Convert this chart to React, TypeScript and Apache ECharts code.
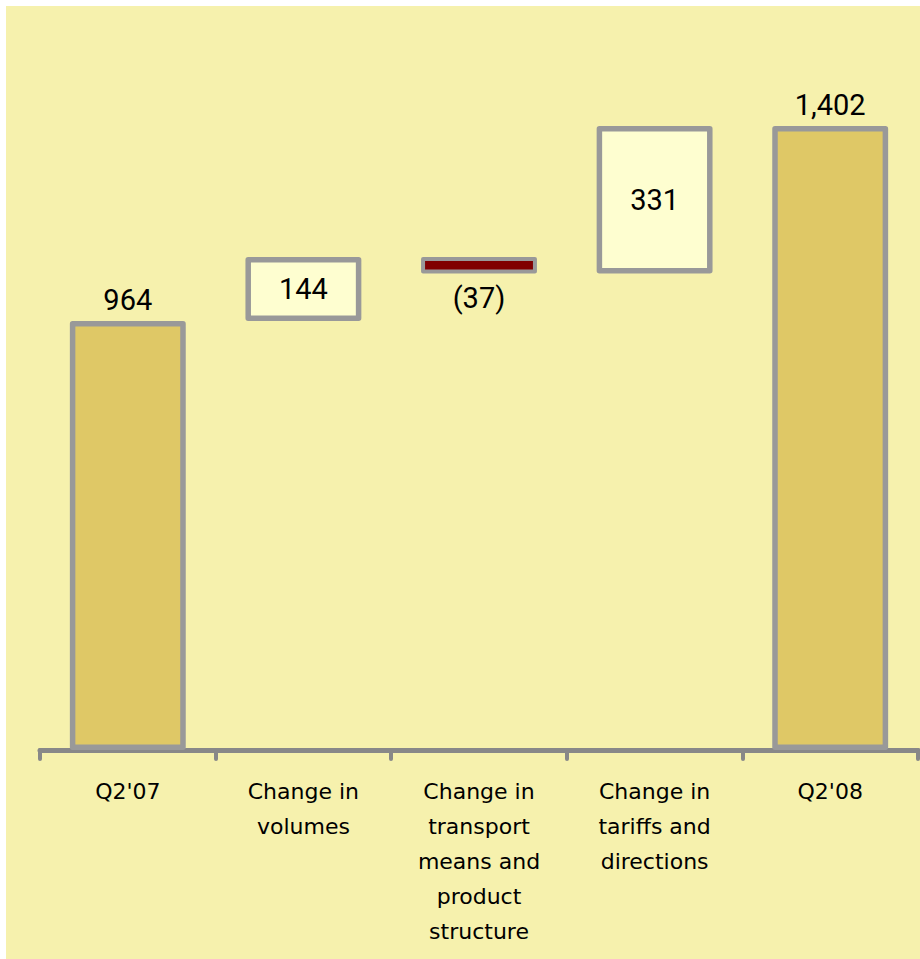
import React, { useEffect, useRef } from "react";
import * as echarts from "echarts";

// Waterfall: Q2'07 -> Q2'08 bridge
const categories = [
  "Q2'07",
  "Change in\nvolumes",
  "Change in\ntransport\nmeans and\nproduct\nstructure",
  "Change in\ntariffs and\ndirections",
  "Q2'08",
];
const values = [964, 144, -37, 331, 1402];
const kinds = ["total", "delta", "delta", "delta", "total"];

const BG = "#F6F1AD";
const TOTAL_FILL = "#DFC866";
const UP_FILL = "#FEFED0";
const DOWN_FILL = "#800000";
const BORDER = "#999999";
const AXIS = "#888888";

function fmt(v: number): string {
  const s = Math.abs(v).toLocaleString("en-US");
  return v < 0 ? `(${s})` : s;
}

export default function App() {
  const ref = useRef<HTMLDivElement>(null);

  useEffect(() => {
    if (!ref.current) return;
    const chart = echarts.init(ref.current, undefined, { renderer: "svg" });

    let running = 0;
    const baseData: number[] = [];
    const barData: any[] = [];
    values.forEach((v, i) => {
      let base = 0;
      if (kinds[i] === "total") {
        running = v;
        base = 0;
      } else if (v >= 0) {
        base = running;
        running += v;
      } else {
        running += v;
        base = running;
      }
      baseData.push(base);
      const fill = kinds[i] === "total" ? TOTAL_FILL : v >= 0 ? UP_FILL : DOWN_FILL;
      const pos = kinds[i] === "total" ? "top" : v >= 0 ? "inside" : "bottom";
      barData.push({
        value: Math.abs(v),
        itemStyle: { color: fill, borderWidth: v < 0 ? 4 : 5.5 },
        label: {
          position: pos,
          distance: pos === "bottom" ? 10 : 7,
          formatter: () => fmt(v),
        },
      });
    });

    chart.setOption({
      animation: false,
      backgroundColor: "#ffffff",
      graphic: [
        {
          type: "rect",
          z: -10,
          silent: true,
          shape: { x: 6, y: 6, width: 914, height: 953 },
          style: { fill: BG },
        },
      ],
      grid: { left: 40, right: 2, top: 38, bottom: 209, containLabel: false },
      xAxis: {
        type: "category",
        data: categories,
        boundaryGap: true,
        axisLine: { show: true, lineStyle: { color: AXIS, width: 5 } },
        axisTick: {
          show: true,
          alignWithLabel: false,
          length: 9,
          lineStyle: { color: AXIS, width: 4, cap: "round" },
        },
        axisLabel: {
          interval: 0,
          margin: 24,
          color: "#000000",
          fontFamily: "DejaVu Sans",
          fontSize: 22,
          lineHeight: 35,
        },
      },
      yAxis: {
        type: "value",
        min: 0,
        max: 1600,
        show: false,
        splitLine: { show: false },
      },
      series: [
        {
          type: "bar",
          stack: "w",
          barWidth: "66%",
          data: baseData,
          itemStyle: { color: "transparent" },
          silent: true,
        },
        {
          type: "bar",
          stack: "w",
          barWidth: "66%",
          data: barData,
          itemStyle: {
            borderColor: BORDER,
            borderWidth: 5.5,
            borderJoin: "round",
          },
          label: {
            show: true,
            color: "#000000",
            fontFamily: "Roboto",
            fontSize: 29,
          },
        },
      ],
    });

    return () => chart.dispose();
  }, []);

  return (
    <div
      ref={ref}
      style={{ position: "fixed", left: 0, top: 0, width: 920, height: 959 }}
    />
  );
}
